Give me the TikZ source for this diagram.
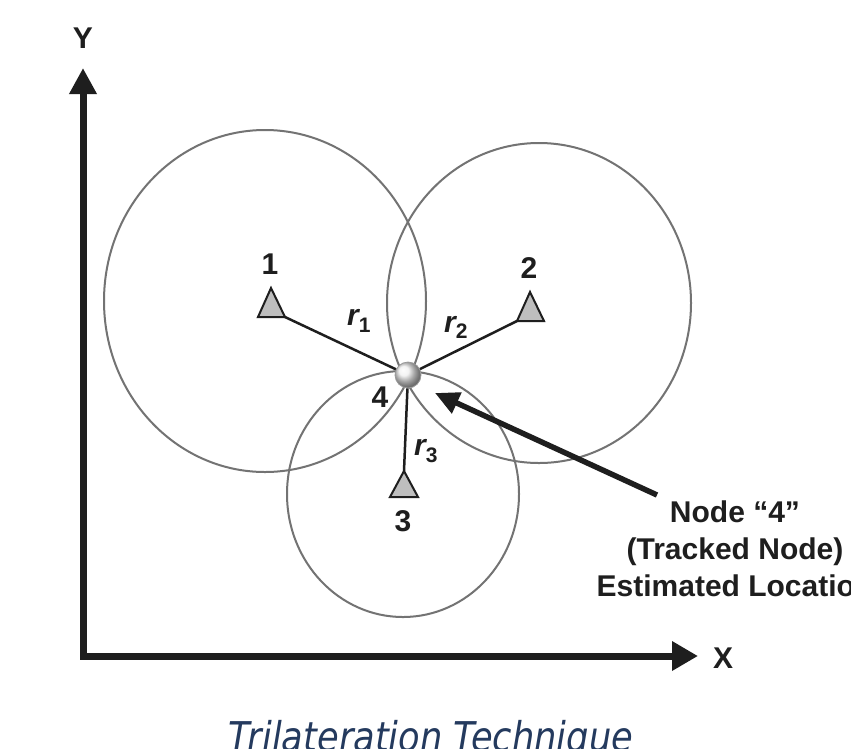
\documentclass[tikz,border=0pt]{standalone}
\usepackage{fontspec}
\usetikzlibrary{arrows.meta}
\newfontfamily\labfont{Liberation Sans}
\newfontfamily\capfont[FakeStretch=0.86]{DejaVu Sans}
\definecolor{ringgray}{RGB}{115,115,115}
\definecolor{trigray}{RGB}{190,190,190}
\definecolor{inkdark}{RGB}{30,30,30}
\definecolor{capblue}{RGB}{36,58,94}
\begin{document}
\begin{tikzpicture}[x=1pt,y=-1pt,
  ring/.style={draw=ringgray, line width=2pt},
  tri/.style={draw=inkdark, fill=trigray, line width=2pt, line join=miter},
  spoke/.style={draw=inkdark, line width=2.5pt},
  axis/.style={draw=inkdark, line width=7pt, line join=miter},
  pointer/.style={draw=inkdark, line width=5.5pt, -{Triangle[length=24pt,width=22pt]}},
  lbl/.style={inner sep=0pt, anchor=base, text=inkdark, font=\labfont\bfseries\fontsize{30}{36}\selectfont},
  rlbl/.style={inner sep=0pt, anchor=base west, text=inkdark, font=\labfont\bfseries\itshape\fontsize{30}{36}\selectfont},
  ballnode/.style={circle, minimum size=26pt, inner sep=0pt, draw=gray!80, line width=0.8pt, ball color=gray!12}
]
\clip (0,0) rectangle (851,748);
\fill[white] (0,0) rectangle (851,748);

% circles (slightly elliptical as in the reference)
\draw[ring] (265,301) ellipse [x radius=161pt, y radius=171pt];
\draw[ring] (539,303) ellipse [x radius=152pt, y radius=160pt];
\draw[ring] (403,494) ellipse [x radius=116pt, y radius=123pt];

% axes
\coordinate (ytip) at (83,68);
\coordinate (orig) at (83,656);
\coordinate (xtip) at (698,656);
\draw[axis, {Triangle[length=26pt,width=26pt]}-{Triangle[length=26pt,width=28pt]}] (ytip) -- (orig) -- (xtip);
\node[lbl] (ylab) at (83,48) {Y};
\node[lbl] (xlab) at (723,668) {X};

% anchors (triangles)
\coordinate (t1a) at (271,288); \coordinate (t1l) at (258,317); \coordinate (t1r) at (285,317);
\coordinate (t2a) at (530,292); \coordinate (t2l) at (517,321); \coordinate (t2r) at (544,321);
\coordinate (t3a) at (404,471); \coordinate (t3l) at (390,497); \coordinate (t3r) at (418,497);

% tracked node
\node[ballnode] (b4) at (408,375) {};

% ranges
\draw[spoke] (t1r) -- (b4);
\draw[spoke] (t2l) -- (b4);
\draw[spoke] (t3a) -- (b4);

\draw[tri] (t1a) -- (t1r) -- (t1l) -- cycle;
\draw[tri] (t2a) -- (t2r) -- (t2l) -- cycle;
\draw[tri] (t3a) -- (t3r) -- (t3l) -- cycle;

\node[lbl] (n1) at (270,274) {1};
\node[lbl] (n2) at (529,278) {2};
\node[lbl] (n3) at (403,531) {3};
\node[lbl] (n4) at (380,407) {4};

\node[rlbl] (r1) at (347,325) {r\raisebox{-7pt}{\fontsize{21}{21}\selectfont\upshape 1}};
\node[rlbl] (r2) at (444,332) {r\raisebox{-6pt}{\fontsize{21}{21}\selectfont\upshape 2}};
\node[rlbl] (r3) at (414,455) {r\raisebox{-7pt}{\fontsize{21}{21}\selectfont\upshape 3}};

% pointer
\coordinate (atail) at (657,495);
\coordinate (atip) at (435,393);
\draw[pointer] (atail) -- (atip);

\node[lbl] (tx1) at (735,522) {Node “4”};
\node[lbl] (tx2) at (735,559) {(Tracked Node)};
\node[lbl] (tx3) at (735,596) {Estimated Location};

% caption
\node[inner sep=0pt, anchor=base, text=capblue, font=\capfont\itshape\fontsize{41}{48}\selectfont] (cap) at (431,751) {Trilateration Technique};
\end{tikzpicture}
\end{document}
